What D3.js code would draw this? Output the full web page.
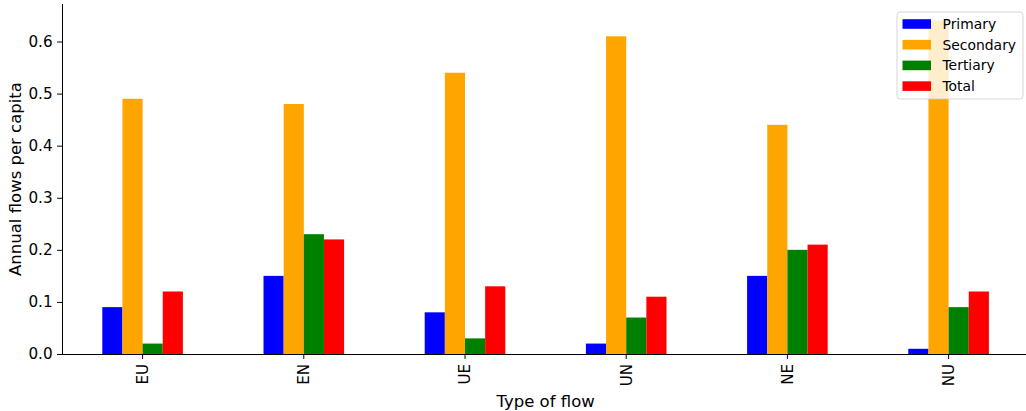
<!DOCTYPE html>
<html>
<head>
<meta charset="utf-8">
<script src="https://cdn.jsdelivr.net/npm/d3@7/dist/d3.min.js"></script>
<style>
  html, body { margin: 0; padding: 0; background: #fff; }
  svg { display: block; font-family: "DejaVu Sans", sans-serif; }
</style>
</head>
<body>
<svg id="chart" width="1026" height="411"></svg>
<script>
// Flow types along the x axis
const categories = ["EU", "EN", "UE", "UN", "NE", "NU"];
// Series names and values (annual flows per capita)
const seriesNames = ["Primary", "Secondary", "Tertiary", "Total"];
const primary   = [0.09, 0.15, 0.08, 0.02, 0.15, 0.01];
const secondary = [0.49, 0.48, 0.54, 0.61, 0.44, 0.64];
const tertiary  = [0.02, 0.23, 0.03, 0.07, 0.20, 0.09];
const total     = [0.12, 0.22, 0.13, 0.11, 0.21, 0.12];
const yTicks = [0.0, 0.1, 0.2, 0.3, 0.4, 0.5, 0.6];
const titleText = "Average total material flows, per capita by flow stage";

const colors = ["#0000ff", "#ffa500", "#008000", "#ff0000"];
const seriesValues = [primary, secondary, tertiary, total];

const svg = d3.select("#chart");
const plotLeft = 62, plotTop = 4, plotBottom = 354;
const bandW = 161.2;
const plotRight = plotLeft + bandW * categories.length;

const x = d3.scaleBand().domain(categories).range([plotLeft, plotRight]).padding(0);
const yMax = d3.max(seriesValues.flat()) * 1.05;
const y = d3.scaleLinear().domain([0, yMax]).range([plotBottom, plotTop]);

// Bars: four per category, together spanning half of each band
const nS = seriesNames.length;
const barW = x.bandwidth() * 0.5 / nS;
const rows = [];
categories.forEach((c, ci) => {
  seriesValues.forEach((vals, si) => rows.push({ c, si, v: vals[ci] }));
});
svg.append("g").selectAll("rect").data(rows).join("rect")
  .attr("x", d => x(d.c) + x.bandwidth() / 2 - x.bandwidth() * 0.25 + d.si * barW)
  .attr("y", d => y(d.v))
  .attr("width", barW)
  .attr("height", d => y(0) - y(d.v))
  .attr("fill", d => colors[d.si]);

// Y axis
const yAxis = svg.append("g")
  .attr("transform", `translate(${plotLeft},0)`)
  .call(d3.axisLeft(y).tickValues(yTicks).tickFormat(d3.format(".1f")).tickSize(4.9).tickPadding(4.5));
yAxis.select(".domain").attr("d", `M0.5,${plotTop}V${plotBottom}`).attr("stroke", "#000").attr("stroke-width", 1);
yAxis.selectAll(".tick line").attr("stroke", "#000");
yAxis.selectAll(".tick text").attr("font-size", "15.2px").attr("fill", "#000")
  .attr("font-family", "DejaVu Sans, sans-serif");

// X axis with rotated labels
const xAxis = svg.append("g")
  .attr("transform", `translate(0,${plotBottom})`)
  .call(d3.axisBottom(x).tickSize(4.9).tickPadding(4.9));
xAxis.select(".domain").attr("d", `M${plotLeft},0.5H${plotRight}`).attr("stroke", "#000").attr("stroke-width", 1);
xAxis.selectAll(".tick line").attr("stroke", "#000");
xAxis.selectAll(".tick text")
  .attr("font-size", "15.2px").attr("fill", "#000")
  .attr("font-family", "DejaVu Sans, sans-serif")
  .attr("transform", "rotate(-90)")
  .attr("x", -9.8).attr("y", 0).attr("dy", "0.35em")
  .attr("text-anchor", "end");

// Axis titles
svg.append("text")
  .attr("x", (plotLeft + plotRight) / 2).attr("y", 407)
  .attr("text-anchor", "middle").attr("font-size", "16.5px").attr("fill", "#000")
  .text("Type of flow");
svg.append("text")
  .attr("transform", `translate(21,${(plotTop + plotBottom) / 2}) rotate(-90)`)
  .attr("text-anchor", "middle").attr("font-size", "16.5px").attr("fill", "#000")
  .text("Annual flows per capita");

// Chart title (sits above the plotting area)
svg.append("text")
  .attr("x", 66).attr("y", -3)
  .attr("font-size", "16.5px").attr("fill", "#000")
  .text(titleText);

// Legend
const lg = svg.append("g").attr("transform", "translate(897,12)");
lg.append("rect").attr("width", 126).attr("height", 87).attr("rx", 3)
  .attr("fill", "#fff").attr("fill-opacity", 0.8)
  .attr("stroke", "#cccccc").attr("stroke-opacity", 0.8);
seriesNames.forEach((name, i) => {
  const g = lg.append("g").attr("transform", `translate(0,${12 + i * 20.7})`);
  g.append("rect").attr("x", 5.5).attr("y", -4.8).attr("width", 28.5).attr("height", 9.6).attr("fill", colors[i]);
  g.append("text").attr("x", 45.5).attr("y", 0).attr("dy", "0.35em")
    .attr("font-size", "13.9px").attr("fill", "#000").text(name);
});
</script>
</body>
</html>
